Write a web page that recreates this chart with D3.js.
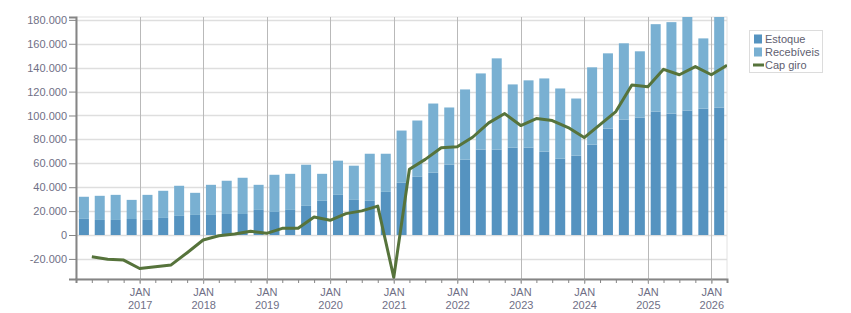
<!DOCTYPE html>
<html>
<head>
<meta charset="utf-8">
<script src="https://cdn.jsdelivr.net/npm/d3@7"></script>
<style>
  body { margin: 0; background: #fff; }
  text { font-family: "Liberation Sans", Arial, sans-serif; }
</style>
</head>
<body>
<svg id="chart" width="851" height="313"></svg>
<script>
// quarters, Q1 2016 .. Q1 2026
var quarters = ["2016-01","2016-04","2016-07","2016-10","2017-01","2017-04","2017-07","2017-10",
  "2018-01","2018-04","2018-07","2018-10","2019-01","2019-04","2019-07","2019-10",
  "2020-01","2020-04","2020-07","2020-10","2021-01","2021-04","2021-07","2021-10",
  "2022-01","2022-04","2022-07","2022-10","2023-01","2023-04","2023-07","2023-10",
  "2024-01","2024-04","2024-07","2024-10","2025-01","2025-04","2025-07","2025-10","2026-01"];

var estoque = [13500,12600,12600,13400,12600,14300,16000,16800,16800,17600,17600,21000,19300,21000,24400,28600,
  33600,29400,28600,36100,43700,48700,52100,58800,63000,71400,71400,73100,73100,69700,63800,66400,
  75600,89000,96600,98300,103300,101600,104200,105800,106700];

var recebiveis = [18500,20200,21000,16000,21000,22700,25200,18500,25200,27800,30300,21000,31100,30200,34400,22600,
  28600,28600,39400,31900,43700,47100,57900,47900,58800,63800,76400,52900,56300,61300,58800,47800,
  64700,63000,63800,55400,73100,76500,82000,58700,80000];

var capGiro = [-18200,-20200,-21000,-28000,-26500,-25000,-14800,-4200,-600,800,3100,1400,5600,5600,15100,12300,
  17900,20200,24200,-35500,55000,63300,73000,73900,82000,93800,101600,91600,97400,95800,89900,81500,
  92400,103300,125500,124000,138600,134100,140900,134100,142000];

var yTicks = [-20000,0,20000,40000,60000,80000,100000,120000,140000,160000,180000];
var yearTicks = [2017,2018,2019,2020,2021,2022,2023,2024,2025,2026];

var seriesNames = ["Estoque", "Recebíveis", "Cap giro"];
var colors = { "Estoque": "#5593c0", "Recebíveis": "#79b0d2", "Cap giro": "#56733b" };

var margin = {top: 17, left: 76},
    width = 651,
    height = 262;

var parseQ = d3.timeParse("%Y-%m");
var data = quarters.map(function(q, i) {
  var d = parseQ(q);
  return { date: d, end: d3.timeMonth.offset(d, 3), Estoque: estoque[i], "Recebíveis": recebiveis[i], cap: capGiro[i] };
});

var locale = d3.formatLocale({decimal: ",", thousands: ".", grouping: [3], currency: ["R$ ", ""], minus: "-"});
var fmt = locale.format(",.0f");

var x = d3.scaleTime()
  .domain([parseQ("2016-01"), parseQ("2026-04")])
  .range([0, width]);
var y = d3.scaleLinear()
  .domain([-36800, 182400])
  .range([height, 0]);

var svg = d3.select("#chart");
var g = svg.append("g").attr("transform", "translate(" + margin.left + "," + margin.top + ")");

svg.append("defs").append("clipPath").attr("id", "plotclip")
  .append("rect").attr("width", width).attr("height", height);

// plot border
g.append("rect").attr("width", width).attr("height", height)
  .attr("fill", "none").attr("stroke", "#e2e2e2");

// horizontal grid
g.append("g").selectAll("line").data(yTicks).enter().append("line")
  .attr("x1", 0).attr("x2", width)
  .attr("y1", function(d) { return Math.round(y(d)) + 0.5; })
  .attr("y2", function(d) { return Math.round(y(d)) + 0.5; })
  .attr("stroke", "#dedede").attr("stroke-width", 1.5);

// vertical year grid
var years = yearTicks.map(function(yr) { return new Date(yr, 0, 1); });
g.append("g").selectAll("line").data(years).enter().append("line")
  .attr("x1", function(d) { return Math.round(x(d)) + 0.5; })
  .attr("x2", function(d) { return Math.round(x(d)) + 0.5; })
  .attr("y1", 0).attr("y2", height)
  .attr("stroke", "#b9b9b9");

// stacked bars
var stack = d3.stack().keys(["Estoque", "Recebíveis"]);
var layers = stack(data);
var barW = 10;
var bars = g.append("g").attr("clip-path", "url(#plotclip)");
bars.selectAll("g").data(layers).enter().append("g")
  .attr("fill", function(d) { return colors[d.key]; })
  .selectAll("rect").data(function(d) { return d; }).enter().append("rect")
  .attr("x", function(d) {
    var mid = (x(d.data.date) + x(d.data.end)) / 2;
    return mid - barW / 2;
  })
  .attr("width", barW)
  .attr("y", function(d) { return y(d[1]); })
  .attr("height", function(d) { return y(d[0]) - y(d[1]); });

// cap giro line
var line = d3.line()
  .x(function(d) { return x(d.end); })
  .y(function(d) { return y(d.cap); });
g.append("path").datum(data)
  .attr("clip-path", "url(#plotclip)")
  .attr("d", line)
  .attr("fill", "none")
  .attr("stroke", colors["Cap giro"])
  .attr("stroke-width", 3)
  .attr("stroke-linejoin", "round");

// y axis
var yAxis = d3.axisLeft(y).tickValues(yTicks).tickSize(7).tickPadding(2).tickFormat(fmt);
var ya = g.append("g").call(yAxis);
ya.select(".domain").attr("stroke", "#858585").attr("stroke-width", 2);
ya.selectAll(".tick line").attr("stroke", "#858585");
ya.selectAll(".tick text").attr("fill", "#6f6f86").style("font-size", "11px");

// x axis: quarter minor ticks
var xMinor = d3.axisBottom(x).ticks(d3.timeMonth.every(3)).tickSize(4).tickFormat("");
var xm = g.append("g").attr("transform", "translate(0," + height + ")").call(xMinor);
xm.select(".domain").attr("stroke", "#858585").attr("stroke-width", 2);
xm.selectAll(".tick line").attr("stroke", "#858585");

// x axis: year labels
var xMajor = d3.axisBottom(x).tickValues(years).tickSize(5).tickFormat("");
var xa = g.append("g").attr("transform", "translate(0," + height + ")").call(xMajor);
xa.select(".domain").remove();
xa.selectAll(".tick line").attr("stroke", "#a0a0a0");
xa.selectAll(".tick").append("text")
  .attr("fill", "#6f6f86").style("font-size", "11px").attr("text-anchor", "middle")
  .selectAll("tspan").data(function(d) { return ["JAN", d.getFullYear()]; }).enter().append("tspan")
  .attr("x", 0)
  .attr("y", function(d, i) { return 17 + i * 13; })
  .text(function(d) { return d; });

// legend
var lg = svg.append("g").attr("transform", "translate(749.5,30.5)");
lg.append("rect").attr("width", 73).attr("height", 42)
  .attr("fill", "#fff").attr("stroke", "#dcdcdc");
var items = lg.selectAll(".item").data(seriesNames).enter().append("g")
  .attr("transform", function(d, i) { return "translate(0," + (8.5 + i * 13) + ")"; });
items.each(function(d) {
  var it = d3.select(this);
  if (d === "Cap giro") {
    it.append("line").attr("x1", 3.5).attr("x2", 14.5).attr("y1", 0).attr("y2", 0)
      .attr("stroke", colors[d]).attr("stroke-width", 3);
  } else {
    it.append("rect").attr("x", 4.5).attr("y", -4.5).attr("width", 8).attr("height", 9)
      .attr("fill", colors[d]);
  }
});
items.append("text").attr("x", 15.5).attr("y", 4)
  .attr("fill", "#606070").style("font-size", "11px")
  .text(function(d) { return d; });
</script>
</body>
</html>
